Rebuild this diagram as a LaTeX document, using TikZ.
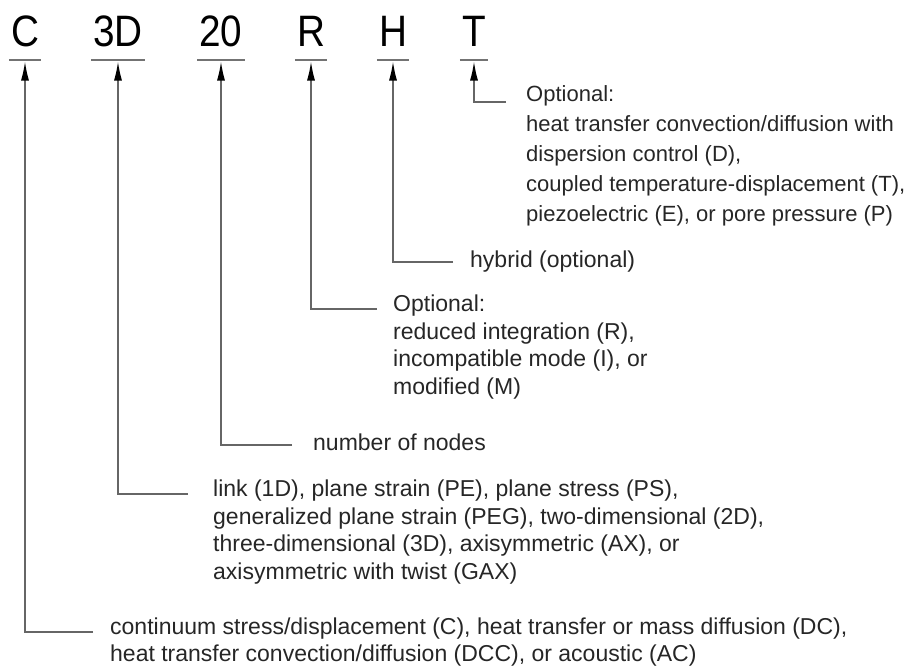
\documentclass[tikz,border=0pt]{standalone}
\usepackage{fontspec}
\setmainfont{Liberation Sans}
\newfontfamily\codefont{Liberation Sans}[FakeStretch=0.88]
\usetikzlibrary{arrows.meta,positioning}

\tikzset{
  code/.style={font=\codefont\fontsize{44}{44}\selectfont, anchor=south,
    inner xsep=2pt, inner ysep=13pt, text depth=0pt},
  bar/.style={draw=black!55, line width=1.3pt},
  link/.style={draw=black!60, line width=1.4pt, shorten >=1.5pt,
    -{Latex[length=19pt,width=8pt,color=black]}},
  note/.style={font=\fontsize{23}{27.5}\selectfont, align=left,
    anchor=north west, inner sep=0pt, text=black!85,
    execute at begin node=\strut},
}

\begin{document}
\begin{tikzpicture}[x=1pt,y=1pt]
    \useasboundingbox (0,0) rectangle (918,-670);

    % element name
    \node[code] (c)   at (25,-60)  {C};
    \node[code] (d3)  at (118,-60) {3D};
    \node[code] (n20) at (221,-60) {20};
    \node[code] (r)   at (311,-60) {R};
    \node[code] (h)   at (393,-60) {H};
    \node[code] (t)   at (474,-60) {T};
    \draw[bar] (c.south west) -- (c.south east);
    \draw[bar] (d3.south west) -- (d3.south east);
    \draw[bar] (n20.south west) -- (n20.south east);
    \draw[bar] (r.south west) -- (r.south east);
    \draw[bar] (h.south west) -- (h.south east);
    \draw[bar] (t.south west) -- (t.south east);

    % T
    \node[note, font=\fontsize{22}{30}\selectfont] (tT) at (526,-85) {Optional:\\
      heat transfer convection/diffusion with\\
      dispersion control (D),\\
      coupled temperature-displacement (T),\\
      piezoelectric (E), or pore pressure (P)};
    \draw[link] ([xshift=-20pt,yshift=-17pt]tT.north west) -| (t.south);

    % H
    \node[note] (tH) at (470,-248) {hybrid (optional)};
    \draw[link] ([xshift=-17pt,yshift=-14pt]tH.north west) -| (h.south);

    % R
    \node[note] (tR) at (393,-295) {Optional:\\
      reduced integration (R),\\
      incompatible mode (I), or\\
      modified (M)};
    \draw[link] ([xshift=-16pt,yshift=-14pt]tR.north west) -| (r.south);

    % 20
    \node[note] (t20) at (313,-431) {number of nodes};
    \draw[link] ([xshift=-21pt,yshift=-14pt]t20.north west) -| (n20.south);

    % 3D
    \node[note] (t3D) at (213,-480) {link (1D), plane strain (PE), plane stress (PS),\\
      generalized plane strain (PEG), two-dimensional (2D),\\
      three-dimensional (3D), axisymmetric (AX), or\\
      axisymmetric with twist (GAX)};
    \draw[link] ([xshift=-25pt,yshift=-14pt]t3D.north west) -| (d3.south);

    % C
    \node[note, font=\fontsize{23}{27}\selectfont] (tC) at (110,-618) {continuum stress/displacement (C), heat transfer or mass diffusion (DC),\\
      heat transfer convection/diffusion (DCC), or acoustic (AC)};
    \draw[link] ([xshift=-17pt,yshift=-14pt]tC.north west) -| (c.south);
\end{tikzpicture}
\end{document}
